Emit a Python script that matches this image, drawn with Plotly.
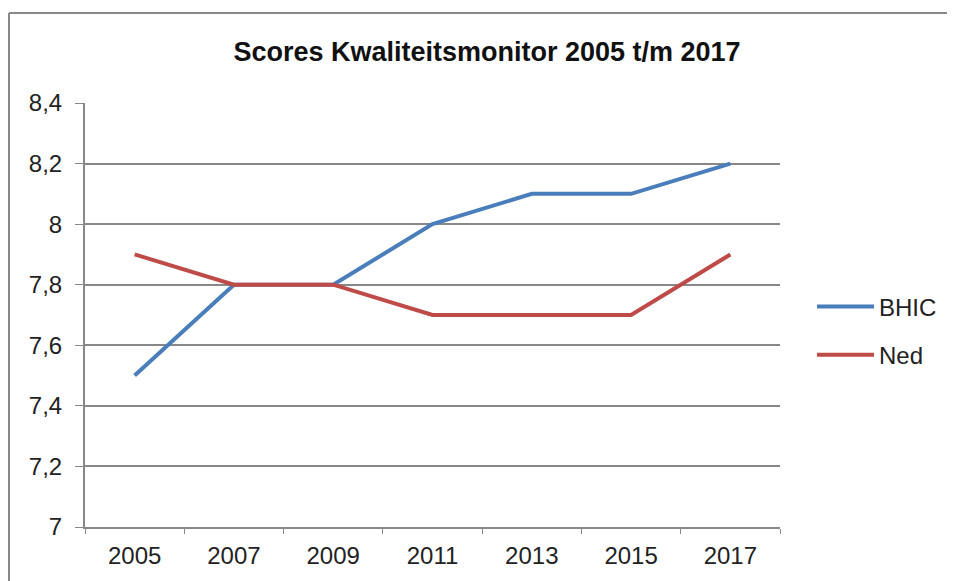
import plotly.graph_objects as go

years = ['2005', '2007', '2009', '2011', '2013', '2015', '2017']
bhic = [7.5, 7.8, 7.8, 8.0, 8.1, 8.1, 8.2]
ned = [7.9, 7.8, 7.8, 7.7, 7.7, 7.7, 7.9]

y_ticks = [7, 7.2, 7.4, 7.6, 7.8, 8, 8.2, 8.4]
y_labels = ['7', '7,2', '7,4', '7,6', '7,8', '8', '8,2', '8,4']

# the page body adds an 8px margin, so the figure is a bit smaller
W, H = 947, 573
L, R, T, B = 77, 175, 95, 54
pw, ph = W - L - R, H - T - B

GRID = '#888888'
FONT = 'Liberation Sans, Arial, sans-serif'

fig = go.Figure()
fig.add_scatter(x=years, y=bhic, mode='lines', name='BHIC', legendgroup='a',
                line=dict(color='#4A7EBB', width=4))
fig.add_scatter(x=years, y=ned, mode='lines', name='Ned', legendgroup='b',
                line=dict(color='#BE4B48', width=4))


def px_x(p):
    return (p - L) / pw


def px_y(p):
    return (H - B - p) / ph


# outer chart frame (top and left edges visible)
fig.add_shape(type='line', xref='paper', yref='paper',
              x0=px_x(1), x1=px_x(W + 5), y0=px_y(5), y1=px_y(5),
              line=dict(color=GRID, width=2))
fig.add_shape(type='line', xref='paper', yref='paper',
              x0=px_x(1), x1=px_x(1), y0=px_y(5), y1=px_y(H + 5),
              line=dict(color=GRID, width=2))

fig.update_layout(
    width=W, height=H,
    margin=dict(l=L, r=R, t=T, b=B, autoexpand=False),
    paper_bgcolor='white', plot_bgcolor='white',
    font=dict(family=FONT, color='#222222'),
    title=dict(text='<b>Scores Kwaliteitsmonitor 2005 t/m 2017</b>',
               x=479 / W, xanchor='center', y=1 - 44 / H, yanchor='middle',
               font=dict(size=27, color='#111111', family=FONT)),
    showlegend=True,
    legend=dict(x=px_x(804), y=px_y(323), xanchor='left', yanchor='middle',
                traceorder='grouped', tracegroupgap=14, itemwidth=57,
                font=dict(size=24, color='#222222'),
                bgcolor='rgba(0,0,0,0)'),
    xaxis=dict(type='category', tickson='boundaries', ticks='outside',
               ticklen=5, tickcolor=GRID, showline=True, linecolor=GRID,
               linewidth=2, showgrid=False, tickfont=dict(size=24),
               ticklabelstandoff=6, range=[-0.5, 6.5]),
    yaxis=dict(range=[7, 8.4], tickvals=y_ticks, ticktext=y_labels,
               ticks='outside', ticklen=8, tickcolor=GRID, showline=True,
               linecolor=GRID, linewidth=2, showgrid=True, gridcolor=GRID,
               gridwidth=2, zeroline=False, tickfont=dict(size=24),
               ticklabelstandoff=8),
)

fig.write_html('out.html')
